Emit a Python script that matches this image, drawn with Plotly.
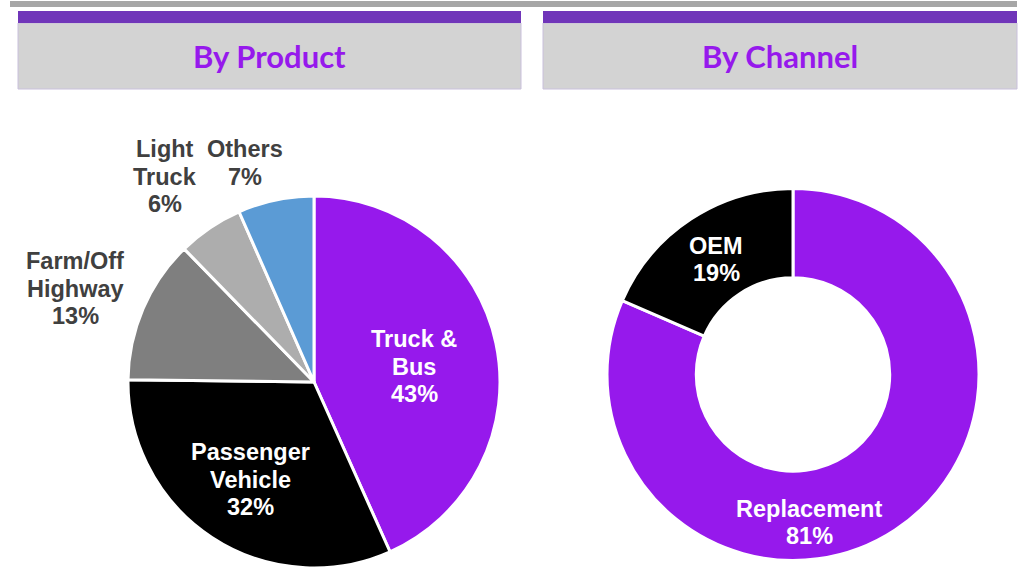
import plotly.graph_objects as go

W, H = 1025, 570

# ---- data ----
product_labels = ["Truck & Bus", "Passenger Vehicle", "Farm/Off Highway", "Light Truck", "Others"]
product_values = [43.3, 31.9, 12.5, 5.7, 6.6]
product_text_lines = [["Truck &", "Bus", "43%"], ["Passenger", "Vehicle", "32%"],
                      ["Farm/Off", "Highway", "13%"], ["Light", "Truck", "6%"], ["Others", "7%"]]

channel_labels = ["Replacement", "OEM"]
channel_values = [81.5, 18.5]
channel_text_lines = [["Replacement", "81%"], ["OEM", "19%"]]

panel_titles = ["By Product", "By Channel"]

# ---- styles ----
PURPLE = "#9619EC"
product_colors = [PURPLE, "#000000", "#7F7F7F", "#ADADAD", "#5B9BD5"]
channel_colors = [PURPLE, "#000000"]
product_label_pos = [(414, 338), (250, 451), (75, 260), (165, 148), (245, 148)]
product_label_col = ["white", "white", "#404040", "#404040", "#404040"]
channel_label_pos = [(809, 507.5), (716, 244.5)]
channel_label_col = ["white", "white"]
LINE = 27.6
FS = 23.5


def px(x):
    return x / W


def py(y):
    return 1 - y / H


fig = go.Figure()

fig.add_trace(go.Pie(
    labels=product_labels, values=product_values, sort=False, direction="clockwise",
    rotation=0, marker=dict(colors=product_colors, line=dict(color="white", width=3)),
    textinfo="none", hoverinfo="label+percent", showlegend=False,
    domain=dict(x=[px(128), px(500)], y=[py(568), py(196)]),
))
fig.add_trace(go.Pie(
    labels=channel_labels, values=channel_values, sort=False, direction="clockwise",
    rotation=0, hole=0.52, marker=dict(colors=channel_colors, line=dict(color="white", width=3)),
    textinfo="none", hoverinfo="label+percent", showlegend=False,
    domain=dict(x=[px(607), px(979)], y=[py(561), py(188)]),
))

annotations = []


def add_label(lines, pos, color):
    cx, cy = pos
    for i, ln in enumerate(lines):
        annotations.append(dict(
            text="<b>%s</b>" % ln.replace("&", "&amp;"), x=px(cx), y=py(cy + i * LINE + 1),
            xref="paper", yref="paper", xanchor="center", yanchor="middle",
            showarrow=False, font=dict(family="Liberation Sans, Arial", size=FS, color=color)))


for lines, pos, col in zip(product_text_lines, product_label_pos, product_label_col):
    add_label(lines, pos, col)
for lines, pos, col in zip(channel_text_lines, channel_label_pos, channel_label_col):
    add_label(lines, pos, col)

shapes = []
# top grey rule
shapes.append(dict(type="rect", xref="paper", yref="paper", x0=px(10), x1=px(1017),
                   y0=py(7), y1=py(1), fillcolor="#A6A6A6", line=dict(width=0), layer="below"))
panels = [(18, 521), (543, 1017)]
for (x0, x1), title in zip(panels, panel_titles):
    shapes.append(dict(type="rect", xref="paper", yref="paper", x0=px(x0), x1=px(x1),
                       y0=py(89), y1=py(23), fillcolor="#D3D3D3",
                       line=dict(width=1, color="#C9C0DC"), layer="below"))
    shapes.append(dict(type="rect", xref="paper", yref="paper", x0=px(x0), x1=px(x1),
                       y0=py(23), y1=py(11), fillcolor="#7035B9", line=dict(width=0), layer="below"))
    annotations.append(dict(text="<b>%s</b>" % title, x=px((x0 + x1) / 2), y=py(56),
                            xref="paper", yref="paper", xanchor="center", yanchor="middle",
                            showarrow=False, font=dict(family="Lato", size=31, color=PURPLE)))

fig.update_layout(
    width=W, height=H, margin=dict(l=0, r=0, t=0, b=0),
    paper_bgcolor="white", plot_bgcolor="white",
    shapes=shapes, annotations=annotations,
)

fig.write_html("out.html", config={"displayModeBar": False},
               post_script="document.body.style.margin='0px';document.body.style.overflow='hidden';")
